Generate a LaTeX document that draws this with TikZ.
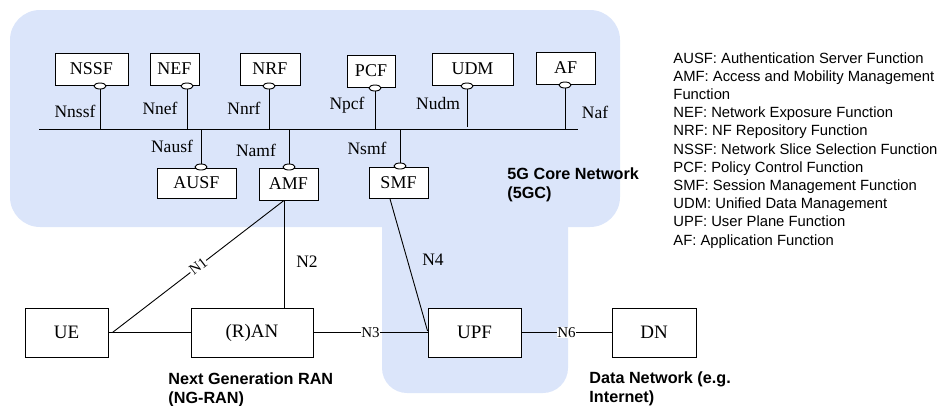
\documentclass[tikz,border=0pt]{standalone}
\usepackage{fontspec}
\setmainfont{Liberation Serif}
\newfontfamily\arialfont{Liberation Sans}
\usetikzlibrary{shapes.geometric}
\definecolor{corebg}{RGB}{219,229,250}
\begin{document}
\begin{tikzpicture}[x=1pt,y=-1pt,
  line width=0.9pt,
  nf/.style={draw,fill=white,inner sep=0pt,minimum height=32pt,font=\fontsize{18}{18}\selectfont},
  port/.style={ellipse,draw,fill=white,inner sep=0pt,minimum width=12pt,minimum height=6pt},
  iface/.style={inner sep=0pt,font=\fontsize{17.5}{17.5}\selectfont},
  lab/.style={fill=white,inner sep=0.6pt,font=\fontsize{15}{15}\selectfont},
  areatext/.style={anchor=base west,inner sep=0pt,font=\arialfont\bfseries\fontsize{16.2}{16.2}\selectfont},
  legend/.style={anchor=base west,inner sep=0pt,font=\arialfont\fontsize{14.8}{14.8}\selectfont}]
\useasboundingbox (0,0) rectangle (944,405);

% 5G core area
\fill[corebg,rounded corners=30pt] (10,10) rectangle (620,227);
\fill[corebg,rounded corners=25pt] (382,150) rectangle (568,393);

% service bus
\coordinate (busL) at (39,129);
\coordinate (busR) at (578,129);
\draw (busL) -- (busR);

% network functions above the bus
\node[nf,minimum width=73pt] (nssf) at (91.5,69) {NSSF};
\node[nf,minimum width=49pt] (nef)  at (174.5,69) {NEF};
\node[nf,minimum width=60pt] (nrf)  at (270,69) {NRF};
\node[nf,minimum width=48pt] (pcf)  at (371,71) {PCF};
\node[nf,minimum width=81pt] (udm)  at (472.5,69) {UDM};
\node[nf,minimum width=59pt] (af)   at (565.5,68) {AF};

% network functions below the bus
\node[nf,minimum width=79pt,minimum height=30pt] (ausf) at (196.5,183) {AUSF};
\node[nf,minimum width=59pt] (amf) at (288.5,184) {AMF};
\node[nf,minimum width=59pt,minimum height=31pt] (smf) at (398.5,183) {SMF};

% service interfaces
\draw (100,86) coordinate (tnssf) -- (tnssf |- busL);
\draw (187,86) coordinate (tnef) -- (tnef |- busL);
\draw (269,86) coordinate (tnrf) -- (tnrf |- busL);
\draw (375,88) coordinate (tpcf) -- (tpcf |- busL);
\draw (467,86) coordinate (tudm) -- (467,127);
\draw (565,85) coordinate (taf) -- (taf |- busL);
\draw (201,167) coordinate (tausf) -- (tausf |- busL);
\draw (289,167) coordinate (tamf) -- (tamf |- busL);
\draw (400,166) coordinate (tsmf) -- (tsmf |- busL);
\foreach \p in {tnssf,tnef,tnrf,tpcf,tudm,taf,tausf,tamf,tsmf}
  \node[port] at (\p) {};

\node[iface] at (75,111) {Nnssf};
\node[iface] at (160,108) {Nnef};
\node[iface] at (244,108) {Nnrf};
\node[iface] at (347,105) {Npcf};
\node[iface] at (438,104) {Nudm};
\node[iface] at (595,112) {Naf};
\node[iface] at (172,146) {Nausf};
\node[iface] at (256,150) {Namf};
\node[iface] at (367,148) {Nsmf};

\node[areatext] at (507,179) {5G Core Network};
\node[areatext] at (507,198) {(5GC)};

% access and user plane
\node[nf,minimum width=83pt,minimum height=49pt,font=\fontsize{19}{19}\selectfont] (ue)  at (66.5,332.5) {UE};
\node[nf,minimum width=122pt,minimum height=49pt,font=\fontsize{19}{19}\selectfont] (ran) at (252,332.5) {(R)AN};
\node[nf,minimum width=93pt,minimum height=49pt,font=\fontsize{19}{19}\selectfont] (upf) at (474.5,332.5) {UPF};
\node[nf,minimum width=84pt,minimum height=49pt,font=\fontsize{19}{19}\selectfont] (dn)  at (654,332.5) {DN};

\coordinate (uejoin) at ([xshift=4pt]ue.east);
\coordinate (amfb) at ([xshift=-4.5pt]amf.south);
\coordinate (smfb) at ([xshift=-8.5pt]smf.south);
\coordinate (upfw) at ([yshift=1.5pt]upf.west);

\draw (ue.east) -- (ran.west);
\draw (uejoin) -- node[lab,sloped] {N1} (amfb);
\draw (amfb) -- (amfb |- ran.north);
\draw (ran.east) -- node[lab] {N3} (upf.west);
\draw (smfb) -- (upfw);
\draw (upf.east) -- node[lab] {N6} (dn.west);

\node[iface] at (307,262) {N2};
\node[iface] at (433,260) {N4};

\node[areatext] at (168,384) {Next Generation RAN};
\node[areatext] at (168,403) {(NG-RAN)};
\node[areatext] at (589,383) {Data Network (e.g.};
\node[areatext] at (589,402) {Internet)};

% abbreviations
\foreach \t [count=\i from 0] in {%
  AUSF: Authentication Server Function,
  AMF: Access and Mobility Management,
  Function,
  NEF: Network Exposure Function,
  NRF: NF Repository Function,
  NSSF: Network Slice Selection Function,
  PCF: Policy Control Function,
  SMF: Session Management Function,
  UDM: Unified Data Management,
  UPF: User Plane Function,
  AF: Application Function}
  \node[legend] at (673,{63+18.2*\i}) {\t};
\end{tikzpicture}
\end{document}
